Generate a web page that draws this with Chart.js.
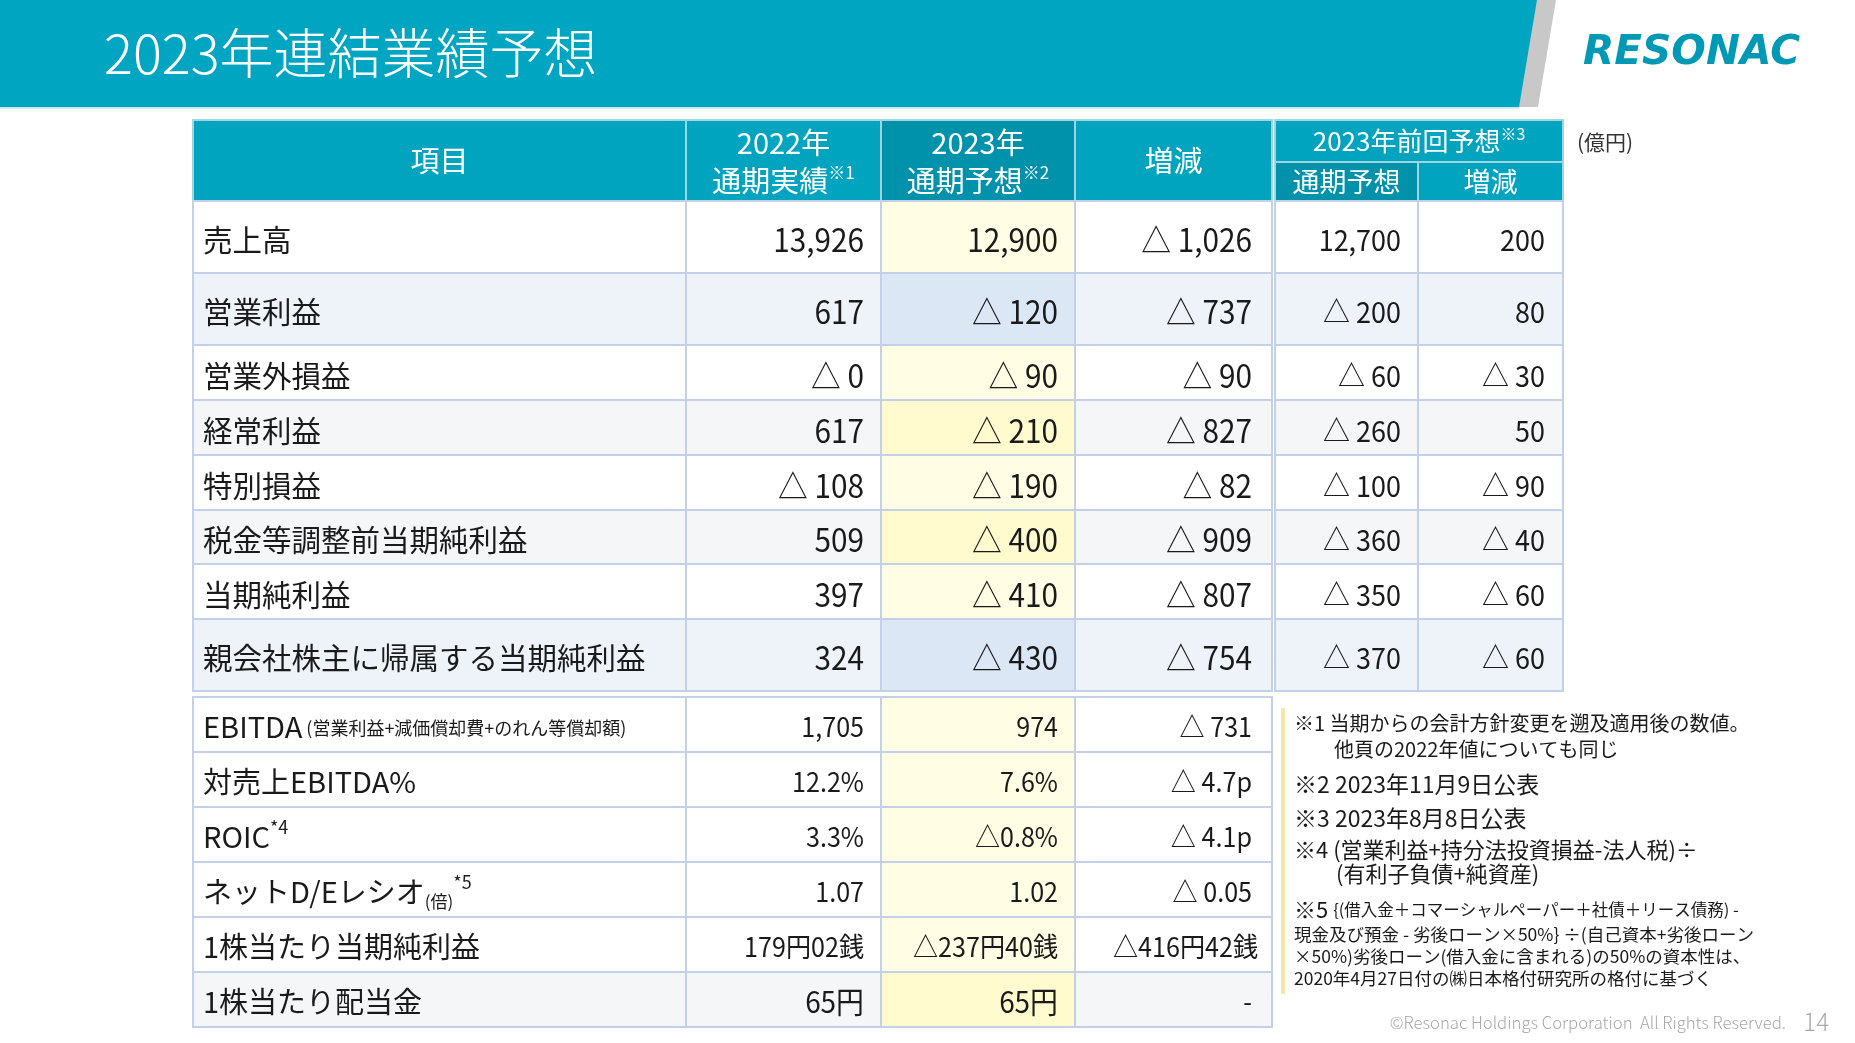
<!DOCTYPE html>
<html lang="ja">
<head>
<meta charset="utf-8">
<title>2023年連結業績予想</title>
<script src="https://cdn.jsdelivr.net/npm/chart.js@4.4.0/dist/chart.umd.min.js"></script>
<style>
  html, body { margin: 0; padding: 0; background: #fff; }
  #wrap { width: 1855px; height: 1043px; }
</style>
</head>
<body>
<div id="wrap"><canvas id="slide" width="1855" height="1043"></canvas></div>
<script>
// ---- データ (億円) ----
const titleText = "2023年連結業績予想";
const unitText = "(億円)";

const rowLabels = ["売上高", "営業利益", "営業外損益", "経常利益", "特別損益",
                   "税金等調整前当期純利益", "当期純利益", "親会社株主に帰属する当期純利益"];
const actual2022   = ["13,926", "617", "△ 0", "617", "△ 108", "509", "397", "324"];
const forecast2023 = ["12,900", "△ 120", "△ 90", "△ 210", "△ 190", "△ 400", "△ 410", "△ 430"];
const diff2023     = ["△ 1,026", "△ 737", "△ 90", "△ 827", "△ 82", "△ 909", "△ 807", "△ 754"];
const prevForecast = ["12,700", "△ 200", "△ 60", "△ 260", "△ 100", "△ 360", "△ 350", "△ 370"];
const prevDiff     = ["200", "80", "△ 30", "50", "△ 90", "△ 40", "△ 60", "△ 60"];

const kpiLabels = ["EBITDA", "対売上EBITDA%", "ROIC", "ネットD/Eレシオ", "1株当たり当期純利益", "1株当たり配当金"];
const kpiSubs   = ["(営業利益+減価償却費+のれん等償却額)", "", "", "(倍)", "", ""];
const kpiMarks  = ["", "", "*4", "*5", "", ""];
const kpi2022   = ["1,705", "12.2%", "3.3%", "1.07", "179円02銭", "65円"];
const kpi2023   = ["974", "7.6%", "△0.8%", "1.02", "△237円40銭", "65円"];
const kpiDiff   = ["△ 731", "△ 4.7p", "△ 4.1p", "△ 0.05", "△416円42銭", "-"];

const headers = {
  item: "項目",
  actual: ["2022年", "通期実績", "※1"],
  forecast: ["2023年", "通期予想", "※2"],
  diff: "増減",
  prev: ["2023年前回予想", "※3"],
  prevSub: ["通期予想", "増減"]
};

const notes = [
  "※1 当期からの会計方針変更を遡及適用後の数値。",
  "他頁の2022年値についても同じ",
  "※2 2023年11月9日公表",
  "※3 2023年8月8日公表",
  "※4 (営業利益+持分法投資損益-法人税)÷",
  "(有利子負債+純資産)",
  "{(借入金＋コマーシャルペーパー＋社債＋リース債務) -",
  "現金及び預金 - 劣後ローン×50%} ÷(自己資本+劣後ローン",
  "×50%)劣後ローン(借入金に含まれる)の50%の資本性は、",
  "2020年4月27日付の㈱日本格付研究所の格付に基づく"
];
const copyright = "©Resonac Holdings Corporation  All Rights Reserved.";
const pageNo = "14";

// ---- レイアウト ----
const FONT = '"Noto Sans CJK JP", "Noto Sans", sans-serif';
const colEdges = [193, 686, 881, 1075, 1272];
const prevEdges = [1275, 1418, 1563];
const headTop = 120, headMid = 162, headBottom = 201;
const mainHeights = [72, 72, 55, 55, 55, 54, 55, 72];
const kpiTop = 697, kpiHeight = 55;
const mainTint = ["w", "b", "w", "g", "w", "g", "w", "b"];
const mainFcTint = ["y", "fb", "y", "yy", "y", "yy", "y", "fb"];
const kpiTint = ["w", "w", "w", "w", "w", "g"];
const kpiFcTint = ["y", "y", "y", "y", "y", "yy"];
const tints = { w: "#ffffff", b: "#eef3fa", g: "#f5f6f8", y: "#fffde4", yy: "#fffbcf", fb: "#dce7f5" };

const TEAL = "#00a4bf", TEAL_DARK = "#0092ab", GRID = "#c3d0e8", HEAD_GRID = "#9fd5e1";

function font(size, weight) {
  return (weight || "400") + " " + size + "px " + FONT;
}

const slidePlugin = {
  id: "slidePlugin",
  afterDraw(chart) {
    const ctx = chart.ctx;
    const X = v => chart.scales.x.getPixelForValue(v);
    const Y = v => chart.scales.y.getPixelForValue(v);

    function fill(x0, y0, x1, y1, color) {
      ctx.fillStyle = color;
      ctx.fillRect(X(x0), Y(y0), X(x1) - X(x0), Y(y1) - Y(y0));
    }
    function stroke(x0, y0, x1, y1, color, w) {
      ctx.strokeStyle = color;
      ctx.lineWidth = w;
      ctx.strokeRect(X(x0), Y(y0), X(x1) - X(x0), Y(y1) - Y(y0));
    }
    // runs: [{t, s, dy, w}], sx = 横方向の縮小率
    function text(runs, x, y, align, color, sx) {
      sx = sx || 1;
      ctx.fillStyle = color || "#1a1a1a";
      ctx.textBaseline = "middle";
      ctx.textAlign = "left";
      let total = 0;
      runs.forEach(r => { ctx.font = font(r.s, r.wt); r.w = ctx.measureText(r.t).width * sx; total += r.w; });
      let cx = X(x);
      if (align === "right") cx -= total;
      if (align === "center") cx -= total / 2;
      runs.forEach(r => {
        ctx.font = font(r.s, r.wt);
        ctx.save();
        ctx.translate(cx, Y(y) + (r.dy || 0));
        ctx.scale(sx, 1);
        ctx.fillText(r.t, 0, 0);
        ctx.restore();
        cx += r.w;
      });
    }
    const num = (t, s) => [{ t: t, s: s }];
    const NSX = 0.93;

    ctx.save();

    // タイトル帯
    ctx.fillStyle = "#c8c8c8";
    ctx.beginPath();
    ctx.moveTo(X(1536), Y(0)); ctx.lineTo(X(1556), Y(0));
    ctx.lineTo(X(1538), Y(107)); ctx.lineTo(X(1518), Y(107));
    ctx.closePath(); ctx.fill();
    ctx.fillStyle = "#00a6c1";
    ctx.beginPath();
    ctx.moveTo(X(0), Y(0)); ctx.lineTo(X(1537), Y(0));
    ctx.lineTo(X(1519), Y(107)); ctx.lineTo(X(0), Y(107));
    ctx.closePath(); ctx.fill();
    fill(0, 107, 1519, 109, "#cdeaf1");

    text([{ t: titleText, s: 54, wt: "300" }], 104, 53, "left", "#ffffff");

    // ロゴ
    ctx.save();
    ctx.font = "italic 700 41px 'DejaVu Sans'";
    const lw = ctx.measureText("RESONAC").width;
    ctx.translate(X(1583), Y(53));
    ctx.scale(217 / lw, 1);
    ctx.fillStyle = "#0099b5";
    ctx.textBaseline = "middle";
    ctx.fillText("RESONAC", 0, 0);
    ctx.restore();

    // 表ヘッダー
    fill(colEdges[0], headTop, colEdges[1], headBottom, TEAL);
    fill(colEdges[1], headTop, colEdges[2], headBottom, TEAL);
    fill(colEdges[2], headTop, colEdges[3], headBottom, TEAL_DARK);
    fill(colEdges[3], headTop, colEdges[4], headBottom, TEAL);
    fill(prevEdges[0], headTop, prevEdges[2], headMid, TEAL);
    fill(prevEdges[0], headMid, prevEdges[1], headBottom, TEAL_DARK);
    fill(prevEdges[1], headMid, prevEdges[2], headBottom, TEAL);
    for (let c = 0; c < 4; c++) stroke(colEdges[c], headTop, colEdges[c + 1], headBottom, HEAD_GRID, 2);
    stroke(prevEdges[0], headTop, prevEdges[2], headMid, HEAD_GRID, 2);
    stroke(prevEdges[0], headMid, prevEdges[1], headBottom, HEAD_GRID, 2);
    stroke(prevEdges[1], headMid, prevEdges[2], headBottom, HEAD_GRID, 2);

    const W = "#ffffff";
    const mid = (a, b) => (a + b) / 2;
    text([{ t: headers.item, s: 29 }], mid(colEdges[0], colEdges[1]), 161, "center", W);
    text([{ t: headers.actual[0], s: 29 }], mid(colEdges[1], colEdges[2]), 143, "center", W);
    text([{ t: headers.actual[1], s: 29 }, { t: headers.actual[2], s: 17, dy: -8 }], mid(colEdges[1], colEdges[2]), 181, "center", W);
    text([{ t: headers.forecast[0], s: 29 }], mid(colEdges[2], colEdges[3]), 143, "center", W);
    text([{ t: headers.forecast[1], s: 29 }, { t: headers.forecast[2], s: 17, dy: -8 }], mid(colEdges[2], colEdges[3]), 181, "center", W);
    text([{ t: headers.diff, s: 29 }], mid(colEdges[3], colEdges[4]), 161, "center", W);
    text([{ t: headers.prev[0], s: 26 }, { t: headers.prev[1], s: 16, dy: -7 }], mid(prevEdges[0], prevEdges[2]), 141, "center", W);
    text([{ t: headers.prevSub[0], s: 27 }], mid(prevEdges[0], prevEdges[1]), 182, "center", W);
    text([{ t: headers.prevSub[1], s: 27 }], mid(prevEdges[1], prevEdges[2]), 182, "center", W);

    text([{ t: unitText, s: 21 }], 1577, 142, "left", "#333333");

    // 本体 (損益)
    let y0 = headBottom;
    rowLabels.forEach((lab, i) => {
      const y1 = y0 + mainHeights[i];
      const base = tints[mainTint[i]];
      fill(colEdges[0], y0, colEdges[2], y1, base);
      fill(colEdges[2], y0, colEdges[3], y1, tints[mainFcTint[i]]);
      fill(colEdges[3], y0, colEdges[4], y1, base);
      fill(prevEdges[0], y0, prevEdges[2], y1, base);
      for (let c = 0; c < 4; c++) stroke(colEdges[c], y0, colEdges[c + 1], y1, GRID, 2);
      stroke(prevEdges[0], y0, prevEdges[1], y1, GRID, 2);
      stroke(prevEdges[1], y0, prevEdges[2], y1, GRID, 2);

      const ty = (y0 + y1) / 2 + 3;
      text([{ t: lab, s: 29.5 }], 203, ty, "left");
      text(num(actual2022[i], 32), colEdges[2] - 17, ty, "right", null, NSX);
      text(num(forecast2023[i], 32), colEdges[3] - 17, ty, "right", null, NSX);
      text(num(diff2023[i], 32), colEdges[4] - 20, ty, "right", null, NSX);
      text(num(prevForecast[i], 29), prevEdges[1] - 17, ty, "right", null, NSX);
      text(num(prevDiff[i], 29), prevEdges[2] - 18, ty, "right", null, NSX);
      y0 = y1;
    });

    // 本体 (指標)
    kpiLabels.forEach((lab, i) => {
      const a = kpiTop + i * kpiHeight, b = a + kpiHeight;
      const base = tints[kpiTint[i]];
      fill(colEdges[0], a, colEdges[2], b, base);
      fill(colEdges[2], a, colEdges[3], b, tints[kpiFcTint[i]]);
      fill(colEdges[3], a, colEdges[4], b, base);
      for (let c = 0; c < 4; c++) stroke(colEdges[c], a, colEdges[c + 1], b, GRID, 2);

      const ty = (a + b) / 2 + 2;
      const runs = [{ t: lab, s: 29 }];
      if (kpiSubs[i]) {
        if (kpiMarks[i]) runs.push({ t: kpiSubs[i], s: 17, dy: 10 });
        else runs.push({ t: " " + kpiSubs[i], s: 18, dy: 2 });
      }
      if (kpiMarks[i]) runs.push({ t: kpiMarks[i], s: 18, dy: -9 });
      text(runs, 203, ty, "left");
      const vs = i === 5 ? 30 : 27;
      text(num(kpi2022[i], vs), colEdges[2] - 17, ty, "right", null, NSX);
      text(num(kpi2023[i], vs), colEdges[3] - 17, ty, "right", null, NSX);
      text(num(kpiDiff[i], 27), colEdges[4] - (i === 4 ? 14 : 20), ty, "right", null, NSX);
    });

    // 注記
    fill(1281, 708, 1285, 994, "#f6e8a8");
    const nc = "#1a1a1a";
    text([{ t: notes[0], s: 20 }], 1294, 723, "left", nc);
    text([{ t: notes[1], s: 20 }], 1334, 749, "left", nc);
    text([{ t: notes[2], s: 23 }], 1294, 784, "left", nc);
    text([{ t: notes[3], s: 23 }], 1294, 818, "left", nc);
    text([{ t: notes[4], s: 22 }], 1294, 850, "left", nc);
    text([{ t: notes[5], s: 22 }], 1336, 874, "left", nc);
    text([{ t: "※5 ", s: 22 }, { t: notes[6], s: 16.5 }], 1294, 910, "left", nc);
    text([{ t: notes[7], s: 17.5 }], 1294, 934, "left", nc);
    text([{ t: notes[8], s: 17.5 }], 1294, 956, "left", nc);
    text([{ t: notes[9], s: 17.5 }], 1294, 978, "left", nc);

    text([{ t: copyright, s: 16.7, wt: "300" }], 1786, 1023, "right", "#a8a8a8");
    text([{ t: pageNo, s: 24, wt: "300" }], 1829, 1022, "right", "#a8a8a8");

    ctx.restore();
  }
};

new Chart(document.getElementById("slide"), {
  type: "scatter",
  data: { datasets: [] },
  options: {
    responsive: false,
    animation: false,
    events: [],
    layout: { padding: 0 },
    plugins: { legend: { display: false }, tooltip: { enabled: false } },
    scales: {
      x: { type: "linear", min: 0, max: 1855, display: false },
      y: { type: "linear", min: 0, max: 1043, reverse: true, display: false }
    }
  },
  plugins: [slidePlugin]
});
</script>
</body>
</html>
